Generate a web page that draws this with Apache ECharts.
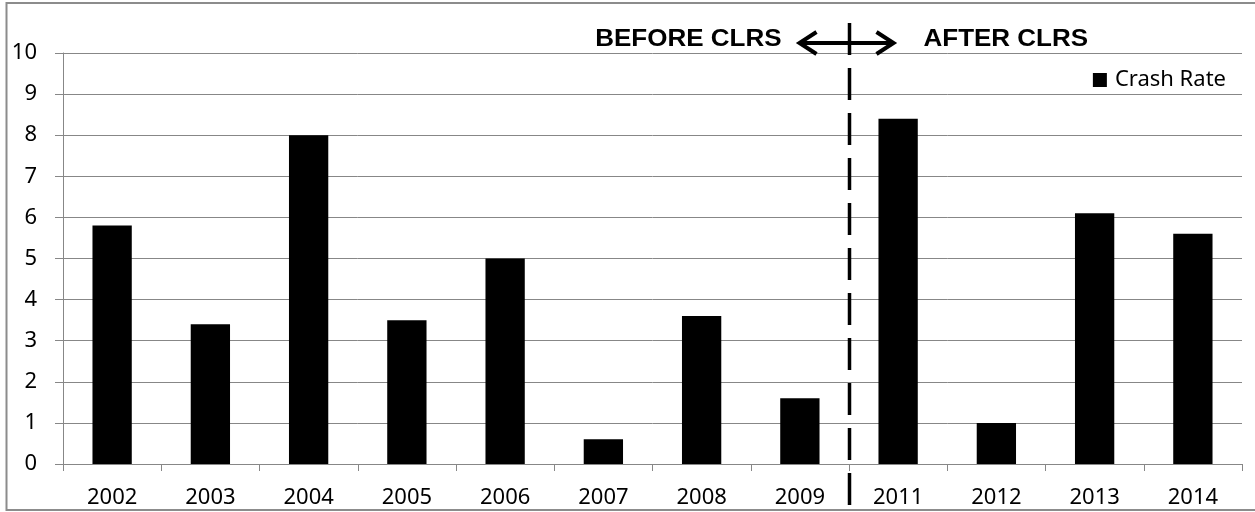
<!DOCTYPE html>
<html>
<head>
<meta charset="utf-8">
<script src="https://cdn.jsdelivr.net/npm/echarts@6/dist/echarts.min.js"></script>
<style>
html,body{margin:0;padding:0;background:#fff;}
#c{width:1255px;height:512px;}
</style>
</head>
<body>
<div id="c"></div>
<script>
var categories = ['2002','2003','2004','2005','2006','2007','2008','2009','2011','2012','2013','2014'];
var crashRate = [5.8, 3.4, 8.0, 3.5, 5.0, 0.6, 3.6, 1.6, 8.4, 1.0, 6.1, 5.6];
var seriesName = 'Crash Rate';
var beforeLabel = 'BEFORE CLRS';
var afterLabel = 'AFTER CLRS';

var gray = '#878787';
var chart = echarts.init(document.getElementById('c'));
chart.setOption({
  animation: false,
  backgroundColor: '#fff',
  grid: {left: 63, right: 13, top: 53, bottom: 48, containLabel: false},
  legend: {
    data: [seriesName],
    right: 24, top: 64,
    icon: 'rect', itemWidth: 14, itemHeight: 14,
    textStyle: {fontFamily: 'Noto Sans', fontSize: 22, color: '#000', padding: [0,0,0,3]}
  },
  xAxis: {
    type: 'category',
    data: categories,
    axisLine: {lineStyle: {color: gray, width: 1}},
    axisTick: {show: true, length: 7, lineStyle: {color: gray}},
    axisLabel: {fontFamily: 'Noto Sans', fontSize: 22, color: '#000', margin: 23, interval: 0},
    splitLine: {show: false}
  },
  yAxis: {
    type: 'value',
    min: 0, max: 10, interval: 1,
    axisLine: {show: true, lineStyle: {color: gray, width: 1}},
    axisTick: {show: true, length: 8, lineStyle: {color: gray}},
    axisLabel: {fontFamily: 'Noto Sans', fontSize: 22, color: '#000', margin: 26},
    splitLine: {show: true, lineStyle: {color: gray, width: 1}}
  },
  series: [{
    name: seriesName,
    type: 'bar',
    data: crashRate,
    barWidth: '40%',
    itemStyle: {color: '#000'}
  }]
});

var p1 = chart.convertToPixel({xAxisIndex: 0}, categories[7]);
var p2 = chart.convertToPixel({xAxisIndex: 0}, categories[8]);
var lx = Math.round((p1 + p2) / 2) + 0.5;
var ay = 43;
var boldFont = 'bold 23px "Liberation Sans", Arial, sans-serif';

chart.setOption({
  graphic: [
    {type: 'rect', silent: true, z: 0,
     shape: {x: 6.5, y: 3, width: 1300, height: 507},
     style: {fill: 'none', stroke: '#8c8c8c', lineWidth: 2}},
    {type: 'line', silent: true, z: 100,
     shape: {x1: lx, y1: 23, x2: lx, y2: 515},
     style: {stroke: '#000', lineWidth: 3.5, lineDash: [32, 13]}},
    {type: 'line', silent: true, z: 100,
     shape: {x1: lx - 48, y1: ay, x2: lx + 42, y2: ay},
     style: {stroke: '#000', lineWidth: 4}},
    {type: 'polyline', silent: true, z: 100,
     shape: {points: [[lx - 33, ay - 11], [lx - 50, ay], [lx - 33, ay + 11]]},
     style: {stroke: '#000', lineWidth: 4, fill: 'none', lineJoin: 'miter'}},
    {type: 'polyline', silent: true, z: 100,
     shape: {points: [[lx + 27, ay - 11], [lx + 44, ay], [lx + 27, ay + 11]]},
     style: {stroke: '#000', lineWidth: 4, fill: 'none', lineJoin: 'miter'}},
    {type: 'text', silent: true, z: 100, x: lx - 68, y: 39.5, scaleX: 1.13, originX: 0, originY: 0,
     style: {text: beforeLabel, font: boldFont, fill: '#000', align: 'right', verticalAlign: 'middle'}},
    {type: 'text', silent: true, z: 100, x: lx + 74, y: 39.5, scaleX: 1.13, originX: 0, originY: 0,
     style: {text: afterLabel, font: boldFont, fill: '#000', align: 'left', verticalAlign: 'middle'}}
  ]
});
</script>
</body>
</html>
